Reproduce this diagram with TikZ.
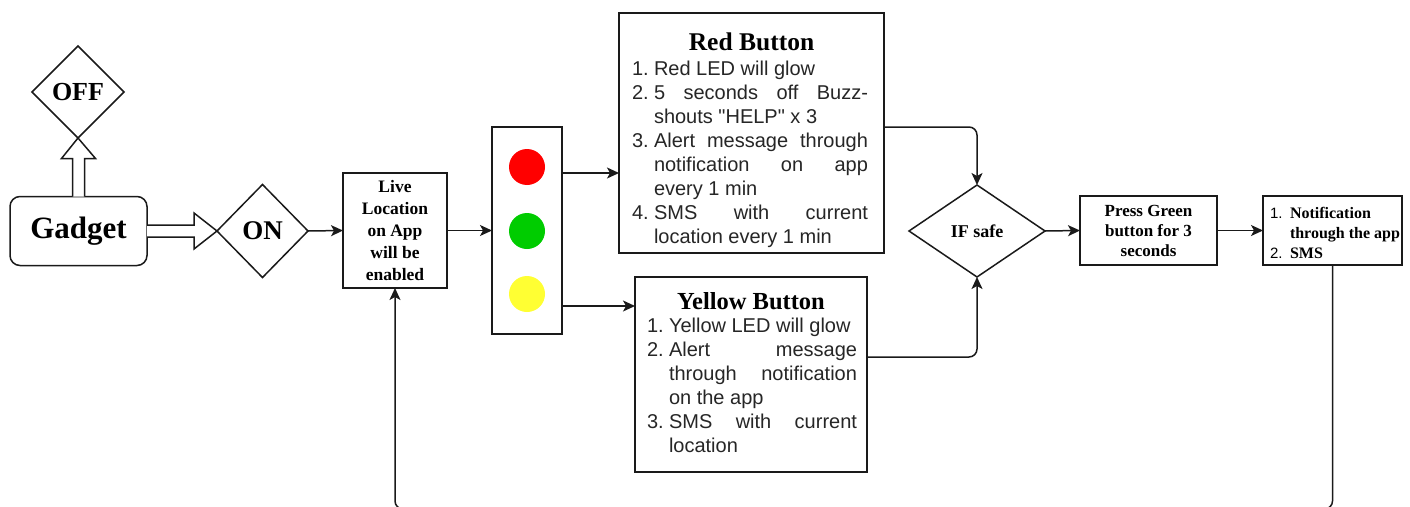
\documentclass[tikz,border=0pt]{standalone}
\usepackage{fontspec}
\setmainfont{Liberation Serif}
\newfontfamily\arial{Liberation Sans}
\usetikzlibrary{shapes.geometric,arrows.meta,calc}
\definecolor{ln}{HTML}{1A1A1A}
\definecolor{lred}{HTML}{FF0000}
\definecolor{lgreen}{HTML}{00CC00}
\definecolor{lyellow}{HTML}{FFFF33}
\newcommand\lbl[1]{\makebox[22pt][l]{#1}}
\newcommand\ind{\hspace*{22pt}}
\begin{document}
\begin{tikzpicture}[x=1pt,y=-1pt,
  every node/.style={inner sep=0pt, outer sep=0pt},
  box/.style={draw=ln, line width=1.5pt, fill=white, rectangle, align=center},
  dia/.style={draw=ln, line width=1.5pt, diamond, fill=white, align=center},
  arr/.style={draw=ln, line width=1.5pt, -{Stealth[length=12pt,width=11pt,inset=3pt]}},
  blk/.style={draw=ln, line width=1.5pt, fill=white, line join=miter},
  lamp/.style={circle, minimum size=36pt},
  sanslist/.style={anchor=north west, align=left, text=black!85, font=\arial\fontsize{20}{24}\selectfont},
  title/.style={anchor=base, font=\bfseries\fontsize{25.5}{30}\selectfont}
]
\useasboundingbox (0,0) rectangle (1410,506);
\clip (0,0) rectangle (1410,506);

% nodes
\node[dia, minimum width=92pt, minimum height=92pt, font=\bfseries\fontsize{26}{30}\selectfont] (off) at (78,92) {OFF};
\node[box, rounded corners=10pt, minimum width=137pt, minimum height=69pt, font=\bfseries\fontsize{31}{36}\selectfont] (gadget) at (78.5,231) {Gadget};
\node[dia, minimum width=91pt, minimum height=93pt, font=\bfseries\fontsize{27}{30}\selectfont] (on) at (262.5,231) {ON};
\node[box, minimum width=104pt, minimum height=115pt, font=\bfseries\fontsize{17.5}{22}\selectfont] (live) at (395,230.5) {Live\\Location\\on App\\will be\\enabled};
\node[box, minimum width=70pt, minimum height=207pt] (light) at (527,230.5) {};
\node[lamp, fill=lred] (lr) at (527,167) {};
\node[lamp, fill=lgreen] (lg) at (527,231) {};
\node[lamp, fill=lyellow] (ly) at (527,294) {};
\node[box, minimum width=265pt, minimum height=240pt] (red) at (751.5,133) {};
\node[box, minimum width=232pt, minimum height=195pt] (yellow) at (751,374.5) {};
\node[dia, minimum width=136pt, minimum height=92pt, font=\bfseries\fontsize{18}{22}\selectfont] (ifs) at (977,231) {IF safe};
\node[box, minimum width=137pt, minimum height=69pt, font=\bfseries\fontsize{17}{20}\selectfont] (press) at (1148.5,230.5) {Press Green\\button for 3\\seconds};
\node[box, minimum width=139pt, minimum height=69pt] (final) at (1332.5,230.5) {};

% texts inside boxes
\node[title] (redtitle) at (751.5,50) {Red Button};
\node[sanslist] (redlist) at (632,61.5) {%
\lbl{1.}Red LED will glow\\
\lbl{2.}\hbox to 214pt{5\hfill seconds\hfill off\hfill Buzz-}\\
\ind shouts "HELP" x 3\\
\lbl{3.}\hbox to 214pt{Alert\hfill message\hfill through}\\
\ind\hbox to 214pt{notification\hfill on\hfill app}\\
\ind every 1 min\\
\lbl{4.}\hbox to 214pt{SMS\hfill with\hfill current}\\
\ind location every 1 min};

\node[title, font=\bfseries\fontsize{24.5}{30}\selectfont] (yeltitle) at (751,309) {Yellow Button};
\node[sanslist] (yellist) at (647,318) {%
\lbl{1.}Yellow LED will glow\\
\lbl{2.}\hbox to 188pt{Alert\hfill message}\\
\ind\hbox to 188pt{through\hfill notification}\\
\ind on the app\\
\lbl{3.}\hbox to 188pt{SMS\hfill with\hfill current}\\
\ind location};

\node[anchor=north west, align=left, font=\bfseries\fontsize{16}{20}\selectfont] (finaltxt) at (1270,207) {%
\makebox[20pt][l]{\arial\mdseries\fontsize{15}{20}\selectfont 1.}Notification\\
\hspace*{20pt}through the app\\
\makebox[20pt][l]{\arial\mdseries\fontsize{15}{20}\selectfont 2.}SMS};

% block arrows
\path[blk] ($(gadget.north)+(-6,0)$) -- ++(0,-38) -- ++(-11,0) -- (off.south) -- ($(gadget.north)+(17,-38)$) -- ++(-11,0) -- ($(gadget.north)+(6,0)$);
\path[blk] ($(gadget.east)+(0,-6)$) -- ++(47,0) -- ++(0,-12) -- (on.west) -- ($(gadget.east)+(47,18)$) -- ++(0,-12) -- ($(gadget.east)+(0,6)$);

% connectors
\coordinate (ya) at (0,173);
\coordinate (yb) at (0,306);
\coordinate (yc) at (0,127);
\coordinate (yd) at (0,357);
\draw[arr] (on.east) -- (live.west);
\draw[arr] (live.east) -- (light.west);
\draw[arr] (light.east |- ya) -- (red.west |- ya);
\draw[arr] (light.east |- yb) -- (yellow.west |- yb);
\draw[arr, rounded corners=8pt] (red.east |- yc) -| (ifs.north);
\draw[arr, rounded corners=8pt] (yellow.east |- yd) -| (ifs.south);
\draw[arr] (ifs.east) -- (press.west);
\draw[arr] (press.east) -- (final.west);
\draw[arr, rounded corners=8pt] (final.south) -- ++(0,244) -| (live.south);
\end{tikzpicture}
\end{document}
